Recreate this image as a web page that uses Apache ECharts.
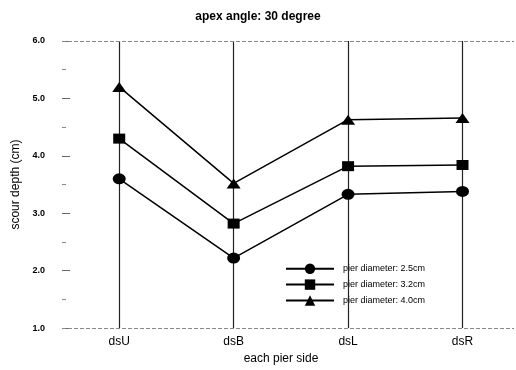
<!DOCTYPE html>
<html><head><meta charset="utf-8">
<script src="https://cdn.jsdelivr.net/npm/echarts@6/dist/echarts.min.js"></script>
<style>html,body{margin:0;padding:0;background:#fff}#c{width:516px;height:370px}</style>
</head><body><div id="c"></div>
<script>
const categories = ['dsU', 'dsB', 'dsL', 'dsR'];
const seriesNames = ['pier diameter: 2.5cm', 'pier diameter: 3.2cm', 'pier diameter: 4.0cm'];
const d25 = [3.6, 2.22, 3.33, 3.38];
const d32 = [4.3, 2.82, 3.82, 3.84];
const d40 = [5.2, 3.52, 4.63, 4.66];
const yTicks = [1, 2, 3, 4, 5, 6];
const titleText = 'apex angle: 30 degree';
const xName = 'each pier side';
const yName = 'scour depth (cm)';

const font = 'Liberation Sans, Arial, sans-serif';
const pos = categories.map((c, i) => i + 1);
function pts(arr) { return arr.map((v, i) => [pos[i], v]); }
const symbols = [['circle', [13, 11]], ['rect', [12, 10]], ['triangle', [14, 10]]];
const datas = [d25, d32, d40];

const series = datas.map((d, k) => ({
  name: seriesNames[k],
  type: 'line',
  data: pts(d),
  symbol: symbols[k][0],
  symbolSize: symbols[k][1],
  lineStyle: { color: '#000', width: 1.5 },
  itemStyle: { color: '#000' },
  z: 5,
  animation: false
}));
series[0].markLine = {
  silent: true, symbol: 'none', animation: false, label: { show: false },
  data: pos.map(p => ({ xAxis: p, lineStyle: { color: '#222', width: 1.2, type: 'solid' } }))
    .concat([yTicks[0], yTicks[yTicks.length - 1]].map(v => ({ yAxis: v, lineStyle: { color: '#888', width: 1, type: [4, 2] } })))
};

const chart = echarts.init(document.getElementById('c'));
chart.setOption({
  backgroundColor: '#fff',
  animation: false,
  title: { text: titleText, left: 'center', top: 6,
    textStyle: { fontFamily: font, fontSize: 12, fontWeight: 'bold', color: '#000' } },
  grid: { left: 62, right: 2, top: 41, bottom: 37 },
  legend: {
    orient: 'vertical', left: 280, top: 258.5, itemWidth: 48, itemHeight: 13, itemGap: 5.5,
    textStyle: { fontFamily: font, fontSize: 9, color: '#000', padding: [0, 0, 0, 4] },
    data: seriesNames
  },
  xAxis: {
    type: 'value', min: 0.5, max: 4.45,
    name: xName, nameLocation: 'middle', nameGap: 23,
    nameTextStyle: { fontFamily: font, fontSize: 12, color: '#000', padding: [0, 0, 0, -14] },
    axisLine: { show: false },
    axisTick: { show: false },
    splitLine: { show: false },
    axisLabel: { customValues: pos, formatter: v => categories[Math.round(v) - 1] || '',
      fontFamily: font, fontSize: 12, color: '#000', margin: 8 }
  },
  yAxis: {
    type: 'value', min: 1, max: 6, interval: 1,
    name: yName, nameLocation: 'middle', nameGap: 37,
    nameTextStyle: { fontFamily: font, fontSize: 12, color: '#000' },
    axisLine: { show: false },
    axisTick: { show: true, inside: true, length: 8, lineStyle: { color: '#666', width: 1 } },
    minorTick: { show: true, splitNumber: 2, length: 4, lineStyle: { color: '#888' } },
    splitLine: { show: false },
    axisLabel: { formatter: v => v.toFixed(1), fontFamily: font, fontSize: 9, fontWeight: 'bold', color: '#000', margin: 17 }
  },
  series: series
});
</script></body></html>
